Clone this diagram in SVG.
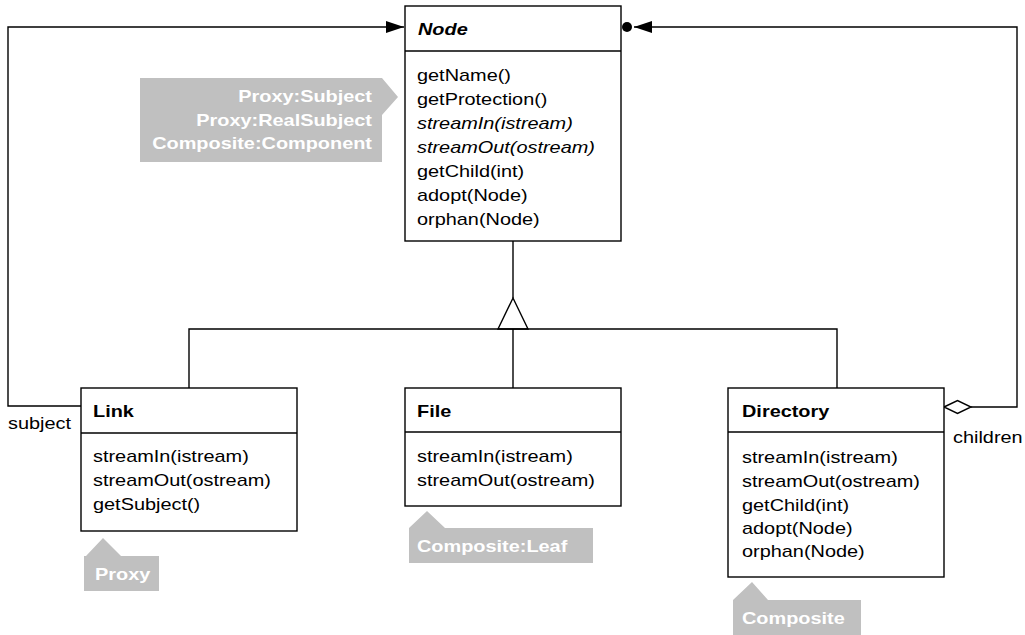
<svg xmlns="http://www.w3.org/2000/svg" width="1025" height="635" viewBox="0 0 1025 635">
<style>
.box{fill:#fff;stroke:#000;stroke-width:1.4}
.ln{fill:none;stroke:#000;stroke-width:1.4}
.t{font-family:"Liberation Sans",Arial,sans-serif;font-size:17px;fill:#000}
.b{font-weight:bold}
.i{font-style:italic}
.tag{fill:#c0c0c0;stroke:none}
.tt{font-family:"Liberation Sans",Arial,sans-serif;font-size:17px;font-weight:bold;fill:#fff}
</style>
<defs>
<marker id="arr" markerWidth="20" markerHeight="14" refX="18" refY="7" orient="auto" markerUnits="userSpaceOnUse">
<path d="M0,1 L18,7 L0,13 Z" fill="#000"/>
</marker>
</defs>
<rect width="1025" height="635" fill="#fff"/>

<g id="connectors">
<polyline class="ln" points="81,406 8,406 8,27 404,27" marker-end="url(#arr)"/>
<polyline class="ln" points="971,407 1017,407 1017,27 634,27" marker-end="url(#arr)"/>
<circle cx="627" cy="27" r="5" fill="#000"/>
<polygon points="944,407 957.5,400.5 971,407 957.5,413.5" fill="#fff" stroke="#000" stroke-width="1.4"/>
<line class="ln" x1="513" y1="241" x2="513" y2="298"/>
<polygon points="513,298 528,329 498,329" fill="#fff" stroke="#000" stroke-width="1.4"/>
<polyline class="ln" points="189,388 189,329 837,329 837,388"/>
<line class="ln" x1="513" y1="329" x2="513" y2="388"/>
<text class="t" transform="translate(8,429) scale(1.17,1)">subject</text>
<text class="t" transform="translate(953,443) scale(1.17,1)">children</text>
</g>

<g id="node-Node">
<rect class="box" x="405" y="6" width="216" height="235"/>
<line class="ln" x1="405" y1="51" x2="621" y2="51"/>
<text class="t b i" transform="translate(418,35) scale(1.17,1)">Node</text>
<text class="t" transform="translate(417,81) scale(1.17,1)">getName()</text>
<text class="t" transform="translate(417,105) scale(1.17,1)">getProtection()</text>
<text class="t i" transform="translate(417,129) scale(1.17,1)">streamIn(istream)</text>
<text class="t i" transform="translate(417,153) scale(1.17,1)">streamOut(ostream)</text>
<text class="t" transform="translate(417,177) scale(1.17,1)">getChild(int)</text>
<text class="t" transform="translate(417,201) scale(1.17,1)">adopt(Node)</text>
<text class="t" transform="translate(417,225) scale(1.17,1)">orphan(Node)</text>
</g>

<g id="node-Link">
<rect class="box" x="81" y="388" width="216" height="143"/>
<line class="ln" x1="81" y1="433" x2="297" y2="433"/>
<text class="t b" transform="translate(93,417) scale(1.17,1)">Link</text>
<text class="t" transform="translate(93,462) scale(1.17,1)">streamIn(istream)</text>
<text class="t" transform="translate(93,486) scale(1.17,1)">streamOut(ostream)</text>
<text class="t" transform="translate(93,510) scale(1.17,1)">getSubject()</text>
</g>

<g id="node-File">
<rect class="box" x="405" y="388" width="216" height="118"/>
<line class="ln" x1="405" y1="432" x2="621" y2="432"/>
<text class="t b" transform="translate(417,417) scale(1.17,1)">File</text>
<text class="t" transform="translate(417,462) scale(1.17,1)">streamIn(istream)</text>
<text class="t" transform="translate(417,486) scale(1.17,1)">streamOut(ostream)</text>
</g>

<g id="node-Directory">
<rect class="box" x="728" y="388" width="216" height="189"/>
<line class="ln" x1="728" y1="432" x2="944" y2="432"/>
<text class="t b" transform="translate(742,417) scale(1.17,1)">Directory</text>
<text class="t" transform="translate(742,463) scale(1.17,1)">streamIn(istream)</text>
<text class="t" transform="translate(742,487) scale(1.17,1)">streamOut(ostream)</text>
<text class="t" transform="translate(742,511) scale(1.17,1)">getChild(int)</text>
<text class="t" transform="translate(742,534) scale(1.17,1)">adopt(Node)</text>
<text class="t" transform="translate(742,557) scale(1.17,1)">orphan(Node)</text>
</g>

<g id="tag-NodeRoles">
<polygon class="tag" points="140,78 382,78 398,97 382,115 382,162 140,162"/>
<text class="tt" text-anchor="end" transform="translate(372,102) scale(1.17,1)">Proxy:Subject</text>
<text class="tt" text-anchor="end" transform="translate(372,125.5) scale(1.17,1)">Proxy:RealSubject</text>
<text class="tt" text-anchor="end" transform="translate(372,149) scale(1.17,1)">Composite:Component</text>
</g>

<g id="tag-Proxy">
<polygon class="tag" points="84,556 86,556 103,538 121,556 159,556 159,591 84,591"/>
<text class="tt" transform="translate(95,580) scale(1.17,1)">Proxy</text>
</g>

<g id="tag-Leaf">
<polygon class="tag" points="409,528 427,511 445,528 593,528 593,563 409,563"/>
<text class="tt" transform="translate(417,552) scale(1.17,1)">Composite:Leaf</text>
</g>

<g id="tag-Composite">
<polygon class="tag" points="733,600 752,582 768,600 861,600 861,635 733,635"/>
<text class="tt" transform="translate(742,624) scale(1.17,1)">Composite</text>
</g>
</svg>
